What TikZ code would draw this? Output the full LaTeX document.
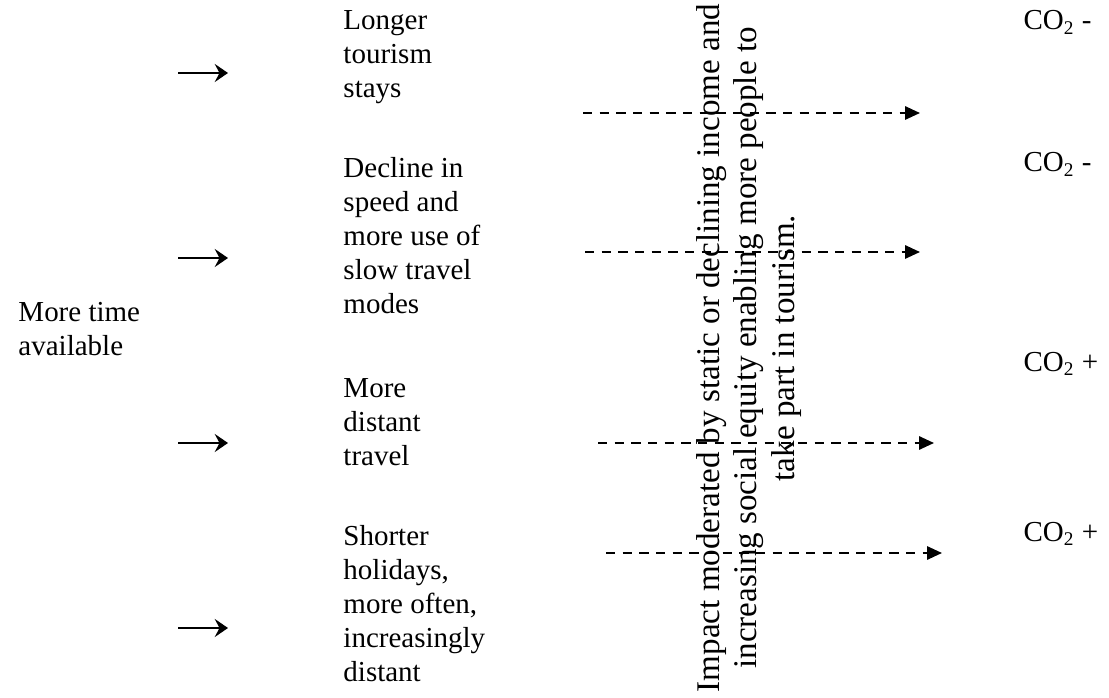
\documentclass[tikz,border=0pt]{standalone}
\usepackage{fontspec}
\setmainfont{Liberation Serif}
\usetikzlibrary{arrows.meta}
\usetikzlibrary{positioning}

\begin{document}
\begin{tikzpicture}[
x=0.414pt, y=-0.414pt,
every node/.style={font=\fontsize{12}{14.1}\selectfont, inner sep=0pt},
MidText/.style={anchor=north west, align=left},
CoLabel/.style={anchor=base west},
NoteText/.style={rotate=90, align=center, font=\fontsize{13.7}{15.6}\selectfont},
SolidArrow/.style={-{Stealth[length=5.5pt,width=7.5pt,inset=2pt]}, line width=0.75pt},
DashArrow/.style={-{Triangle[length=6.2pt,width=5.5pt]}, line width=0.9pt, dash pattern=on 3.9pt off 3pt}
]
\useasboundingbox (0,0) rectangle (1109,698);

% cause on the left
\node[MidText] (time) at (18,302) {More time\\available};

% the four outcomes
\node[MidText] (stays) at (343,10) {Longer\\tourism\\stays};
\node[MidText] (slow) at (343,157) {Decline in\\speed and\\more use of\\slow travel\\modes};
\node[MidText] (distant) at (343,378) {More\\distant\\travel};
\node[MidText] (shorter) at (343,525) {Shorter\\holidays,\\more often,\\increasingly\\distant};

% emissions
\node[CoLabel] (coA) at (1023,30) {CO\textsubscript{2} -};
\node[CoLabel] (coB) at (1023,172) {CO\textsubscript{2} -};
\node[CoLabel] (coC) at (1023,371) {CO\textsubscript{2} +};
\node[CoLabel] (coD) at (1023,541) {CO\textsubscript{2} +};

% moderating note
\node[NoteText] (note) at (749,348) {Impact moderated by static or declining income and\\increasing social equity enabling more people to\\take part in tourism.};

% solid arrows
\coordinate (sA1) at (178,73);  \coordinate (sA2) at (228,73);
\coordinate (sB1) at (178,258); \coordinate (sB2) at (228,258);
\coordinate (sC1) at (178,443); \coordinate (sC2) at (228,443);
\coordinate (sD1) at (178,628); \coordinate (sD2) at (228,628);

\draw[SolidArrow] (sA1)--(sA2);
\draw[SolidArrow] (sB1)--(sB2);
\draw[SolidArrow] (sC1)--(sC2);
\draw[SolidArrow] (sD1)--(sD2);

% dashed arrows
\coordinate (dA1) at (583,113); \coordinate (dA2) at (920,113);
\coordinate (dB1) at (585,252); \coordinate (dB2) at (920,252);
\coordinate (dC1) at (598,443); \coordinate (dC2) at (934,443);
\coordinate (dD1) at (606,553); \coordinate (dD2) at (942,553);

\draw[DashArrow] (dA1)--(dA2);
\draw[DashArrow] (dB1)--(dB2);
\draw[DashArrow] (dC1)--(dC2);
\draw[DashArrow] (dD1)--(dD2);

\end{tikzpicture}
\end{document}
